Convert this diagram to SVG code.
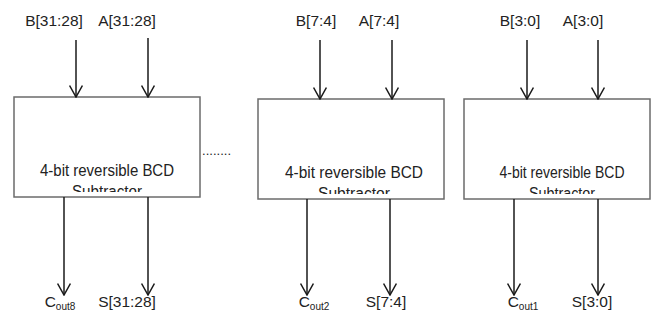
<svg xmlns="http://www.w3.org/2000/svg" width="652" height="320" viewBox="0 0 652 320">
  <defs>
    <marker id="arr" viewBox="0 0 13 14" refX="12" refY="7" markerWidth="13" markerHeight="14" markerUnits="userSpaceOnUse" orient="auto">
      <path d="M0.5,0.6 L12,7 L0.5,13.4" fill="none" stroke="#1a1a1a" stroke-width="1.5"/>
    </marker>
    <clipPath id="c1"><rect x="14" y="97" width="186" height="95"/></clipPath>
    <clipPath id="c2"><rect x="258" y="99" width="186" height="95"/></clipPath>
    <clipPath id="c3"><rect x="464" y="99" width="186" height="95"/></clipPath>
  </defs>
  <style>
    text { font-family: "Liberation Sans", Arial, sans-serif; fill: #222; }
    .lbl { font-size: 15.5px; text-anchor: middle; }
    .box { fill: #fff; stroke: #6b6b6b; stroke-width: 1.5; }
    .blk { font-size: 16px; text-anchor: middle; }
    .sub { font-size: 10px; }
    .wire { stroke: #1a1a1a; stroke-width: 1.5; fill: none; marker-end: url(#arr); }
  </style>

  <g id="node1">
    <rect class="box" x="14" y="97" width="186" height="100"/>
    <g clip-path="url(#c1)">
      <text class="blk" x="107" y="176" textLength="134" lengthAdjust="spacingAndGlyphs">4-bit reversible BCD</text>
      <text class="blk" x="107" y="197" textLength="70" lengthAdjust="spacingAndGlyphs">Subtractor</text>
    </g>
  </g>
  <g id="node2">
    <rect class="box" x="258" y="99" width="186" height="100"/>
    <g clip-path="url(#c2)">
      <text class="blk" x="354" y="178" textLength="138" lengthAdjust="spacingAndGlyphs">4-bit reversible BCD</text>
      <text class="blk" x="354" y="199" textLength="72" lengthAdjust="spacingAndGlyphs">Subtractor</text>
    </g>
  </g>
  <g id="node3">
    <rect class="box" x="464" y="99" width="186" height="100"/>
    <g clip-path="url(#c3)">
      <text class="blk" x="562" y="178" textLength="125" lengthAdjust="spacingAndGlyphs">4-bit reversible BCD</text>
      <text class="blk" x="562" y="199" textLength="66" lengthAdjust="spacingAndGlyphs">Subtractor</text>
    </g>
  </g>

  <g id="dots">
    <text x="202" y="155" font-size="13" textLength="29" lengthAdjust="spacing">........</text>
  </g>

  <g id="labels">
    <text class="lbl" x="54" y="26">B[31:28]</text>
    <text class="lbl" x="127" y="26">A[31:28]</text>
    <text class="lbl" x="316" y="26">B[7:4]</text>
    <text class="lbl" x="379" y="26">A[7:4]</text>
    <text class="lbl" x="520" y="26">B[3:0]</text>
    <text class="lbl" x="583" y="26">A[3:0]</text>

    <text class="lbl" x="60" y="307">C<tspan class="sub" dy="3">out8</tspan></text>
    <text class="lbl" x="127" y="307">S[31:28]</text>
    <text class="lbl" x="314" y="307">C<tspan class="sub" dy="3">out2</tspan></text>
    <text class="lbl" x="386" y="307">S[7:4]</text>
    <text class="lbl" x="523" y="307">C<tspan class="sub" dy="3">out1</tspan></text>
    <text class="lbl" x="592" y="307">S[3:0]</text>
  </g>

  <g id="connectors">
    <line class="wire" x1="76" y1="40" x2="76" y2="97"/>
    <line class="wire" x1="148" y1="38" x2="148" y2="97"/>
    <line class="wire" x1="64" y1="197" x2="64" y2="295"/>
    <line class="wire" x1="148" y1="197" x2="148" y2="295"/>

    <line class="wire" x1="320" y1="40" x2="320" y2="99"/>
    <line class="wire" x1="392" y1="40" x2="392" y2="99"/>
    <line class="wire" x1="307" y1="199" x2="307" y2="295"/>
    <line class="wire" x1="390" y1="199" x2="390" y2="295"/>

    <line class="wire" x1="527" y1="40" x2="527" y2="99"/>
    <line class="wire" x1="598" y1="40" x2="598" y2="99"/>
    <line class="wire" x1="514" y1="199" x2="514" y2="295"/>
    <line class="wire" x1="598" y1="199" x2="598" y2="295"/>
  </g>
</svg>
